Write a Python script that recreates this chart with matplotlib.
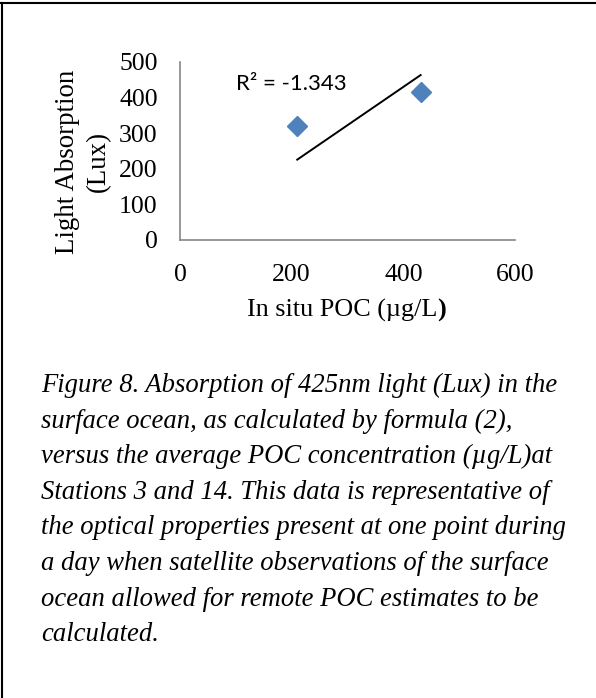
import matplotlib
matplotlib.use("Agg")
import matplotlib.pyplot as plt
from matplotlib.lines import Line2D

# data
poc = [210, 431]            # in situ POC (ug/L)
absorption = [320, 415]     # light absorption (Lux)
trend_x = [210, 431]
trend_slope = 1.075         # linear trend forced through zero
r_squared = "R² = -1.343"
x_ticks = [0, 200, 400, 600]
y_ticks = [0, 100, 200, 300, 400, 500]

caption = [
    "Figure 8. Absorption of 425nm light (Lux) in the",
    "surface ocean, as calculated by formula (2),",
    "versus the average POC concentration (µg/L)at",
    "Stations 3 and 14. This data is representative of",
    "the optical properties present at one point during",
    "a day when satellite observations of the surface",
    "ocean allowed for remote POC estimates to be",
    "calculated.",
]

W, H = 596, 698
serif = "Liberation Serif"
fig = plt.figure(figsize=(W / 100, H / 100), dpi=100)

ax = fig.add_axes([180 / W, 1 - 240 / H, 335 / W, 178 / H])
ax.plot(trend_x, [trend_slope * x for x in trend_x], color="black", lw=1.4)
ax.plot(poc, absorption, linestyle="none", marker="D", markersize=10,
        color="#4F81BD", clip_on=False, zorder=3)

ax.set_xlim(0, 600)
ax.set_ylim(0, 500)
ax.set_xticks(x_ticks)
ax.set_yticks(y_ticks)
for s in ["top", "right"]:
    ax.spines[s].set_visible(False)
for s in ["left", "bottom"]:
    ax.spines[s].set_color("#868686")
    ax.spines[s].set_linewidth(1.2)
ax.tick_params(axis="both", length=0, labelsize=18.5)
ax.tick_params(axis="y", pad=16)
ax.tick_params(axis="x", pad=17)
for lab in ax.get_xticklabels() + ax.get_yticklabels():
    lab.set_family(serif)

ax.set_ylabel("Light Absorption\n(Lux)", family=serif, fontsize=19.4,
              va="center", linespacing=1.35)
ax.yaxis.set_label_coords(-0.29, 0.44)

# x axis title, last bracket is bold in the original
t1 = fig.text(247 / W, 1 - 317 / H, "In situ POC (µg/L", family=serif,
              fontsize=18.8, ha="left", va="baseline")
fig.add_artist(matplotlib.text.Annotation(
    ")", xy=(1, 0), xycoords=t1, family=serif, fontsize=18.8,
    fontweight="bold", ha="left", va="bottom"))

fig.text(236 / W, 1 - 90 / H, r_squared, family="Lato", fontsize=16,
         va="baseline")

for i, line in enumerate(caption):
    fig.text(41 / W, 1 - (392 + i * 35.6) / H, line, family=serif,
             style="italic", fontsize=19.2, va="baseline")

# frame of the screenshot
fig.add_artist(Line2D([0, 1], [1 - 3 / H, 1 - 3 / H],
                      transform=fig.transFigure, color="black", lw=1.5))
fig.add_artist(Line2D([1.5 / W, 1.5 / W], [0, 1 - 3 / H],
                      transform=fig.transFigure, color="black", lw=1.5))

fig.savefig("out.png", dpi=100)
